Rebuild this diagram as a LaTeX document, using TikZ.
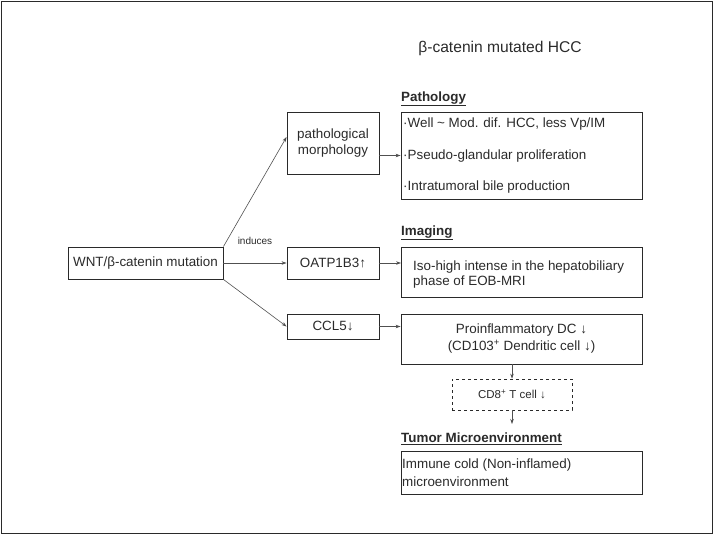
\documentclass[tikz,border=0pt]{standalone}
\usepackage{fontspec}
\setmainfont{Liberation Sans}
\usetikzlibrary{arrows.meta}
\definecolor{ink}{HTML}{2A2A2A}
\definecolor{arr}{HTML}{505050}
\tikzset{
  box/.style={draw=ink, line width=0.9pt, rectangle, inner sep=0pt, align=center, text=ink, font=\fontsize{13.4}{16}\selectfont},
  txt/.style={inner sep=0pt, text=ink, font=\fontsize{13.4}{16}\selectfont},
  lbl/.style={inner sep=0pt, anchor=west, text=ink, font=\fontsize{13.4}{16}\selectfont\bfseries},
  conn/.style={draw=arr, line width=0.6pt, -{Stealth[length=5pt,width=3.5pt]}},
}
\begin{document}
\begin{tikzpicture}[x=1pt,y=-1pt]
\useasboundingbox (0,0) rectangle (714,535);
\draw[ink, line width=1.2pt] (1.5,1.5) rectangle (712.5,533.5);

\node[txt, font=\fontsize{15.6}{18}\selectfont] (title) at (500,48) {β-catenin mutated HCC};

\node[box, minimum width=155pt, minimum height=32pt] (wnt) at (145.5,263) {WNT/β-catenin mutation};
\node[box, minimum width=92pt, minimum height=62pt] (morph) at (333,143) {pathological\\morphology};
\node[box, minimum width=92pt, minimum height=32pt] (oatp) at (333,263) {OATP1B3↑};
\node[box, minimum width=92pt, minimum height=25pt] (ccl5) at (333,326.5) {CCL5↓};
\node[txt, font=\fontsize{10}{12}\selectfont] (ind) at (255,241) {induces};

\node[lbl] (lpath) at (401,99) {\underline{Pathology}};
\node[box, minimum width=241pt, minimum height=87pt] (path) at (521.5,155.5) {};
\node[txt, anchor=west] (p1) at (403,124) {·Well \textasciitilde{} Mod. dif. HCC, less Vp/IM};
\node[txt, anchor=west] (p2) at (403,156) {·Pseudo-glandular proliferation};
\node[txt, anchor=west] (p3) at (403,187) {·Intratumoral bile production};

\node[lbl] (limg) at (401,233) {\underline{Imaging}};
\node[box, minimum width=241pt, minimum height=50pt] (img) at (522,272) {};
\node[txt, anchor=west, align=left, font=\fontsize{13.4}{15}\selectfont] (imgt) at (413,274.5) {Iso-high intense in the hepatobiliary\\phase of EOB-MRI};

\node[box, minimum width=241pt, minimum height=50pt, font=\fontsize{13.4}{17}\selectfont] (pro) at (521.5,339) {Proinflammatory DC ↓\\(CD103\textsuperscript{+} Dendritic cell ↓)};

\node[box, dashed, line width=0.7pt, minimum width=120pt, minimum height=31pt, font=\fontsize{11.5}{14}\selectfont] (cd8) at (512,394.5) {CD8\textsuperscript{+} T cell ↓};
\coordinate (end) at (512,424);

\node[lbl] (ltme) at (401,439) {\underline{Tumor Microenvironment}};
\node[box, minimum width=241pt, minimum height=43pt] (imm) at (521.5,472.5) {};
\node[txt, anchor=west, align=left, font=\fontsize{13.4}{18}\selectfont] (immt) at (402,473) {Immune cold (Non-inflamed)\\microenvironment};

\draw[conn] (wnt.north east) -- ([yshift=6pt]morph.west);
\draw[conn] (wnt.east) -- (oatp.west);
\draw[conn] (wnt.south east) -- (ccl5.west);
\draw[conn] (morph.east |- path.west) -- (path.west);
\draw[conn] (oatp.east) -- (oatp.east -| img.west);
\draw[conn] (ccl5.east) -- (ccl5.east -| pro.west);
\draw[conn] (pro.south -| cd8.north) -- (cd8.north);
\draw[conn] (cd8.south) -- (end);
\end{tikzpicture}
\end{document}
